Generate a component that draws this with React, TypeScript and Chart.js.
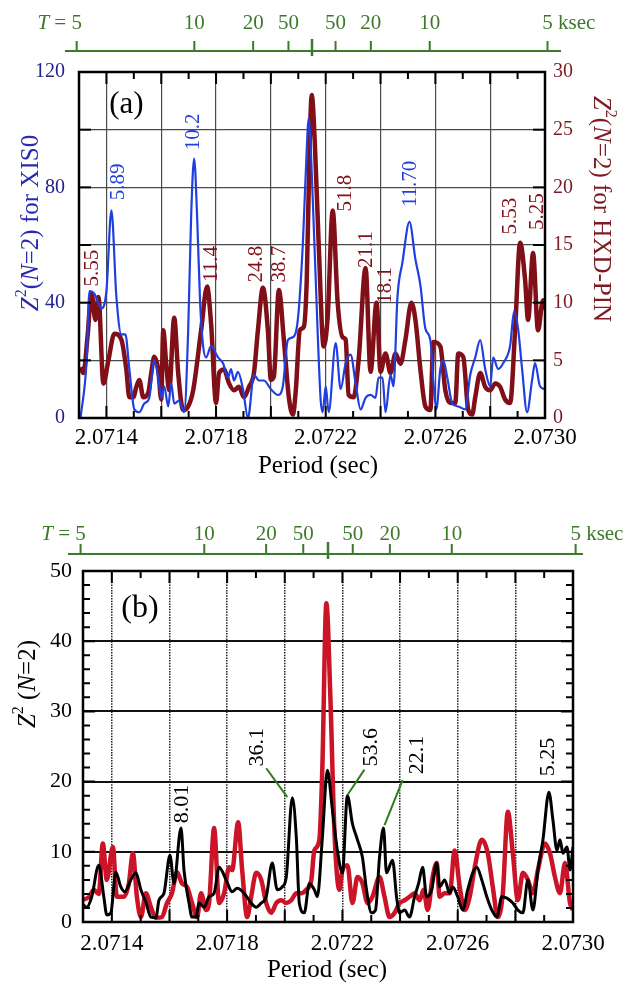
import { useEffect, useRef } from "react";
import { Chart, registerables } from "chart.js";

Chart.register(...registerables);

const SERIF = '"Liberation Serif", "DejaVu Serif", "Times New Roman", serif';

// ---------------- axes ----------------
const PERIOD_MIN = 2.0713;
const PERIOD_MAX = 2.073;
const PERIOD_LABELS = [2.0714, 2.0718, 2.0722, 2.0726, 2.073];
const XIS_TICKS = [0, 20, 40, 60, 80, 100, 120];
const XIS_LABELS = [0, 40, 80, 120];
const PIN_TICKS = [0, 5, 10, 15, 20, 25, 30];
const B_TICKS_MAJOR = [0, 10, 20, 30, 40, 50];

// top axis: beat period T (ksec) about the central period P0
const P0 = 2.07215;
const BEAT_T_KSEC = [5, 10, 20, 50];

// ---------------- panel (a): XIS0 (left axis) ----------------
const xisPeriod = [
  2.0713055, 2.0713273, 2.0713382, 2.0713564, 2.0713818, 2.0714, 2.0714182, 2.0714364, 2.0714545, 2.0714691,
  2.0714836, 2.0715018, 2.07152, 2.0715382, 2.0715564, 2.0715745, 2.0715891, 2.0716, 2.0716109, 2.0716255,
  2.0716364, 2.0716473, 2.0716655, 2.0716836, 2.0716982, 2.0717091, 2.07172, 2.0717309, 2.0717418, 2.0717527,
  2.0717636, 2.0717818, 2.0718073, 2.0718255, 2.0718436, 2.0718545, 2.0718655, 2.07188, 2.0718982, 2.0719164,
  2.0719382, 2.0719564, 2.0719745, 2.072, 2.0720255, 2.0720436, 2.0720618, 2.07208, 2.0720982, 2.0721164,
  2.0721273, 2.0721382, 2.0721527, 2.0721709, 2.0721818, 2.0721891, 2.0722, 2.0722109, 2.0722364, 2.0722545,
  2.0722727, 2.0722909, 2.0723091, 2.0723273, 2.0723455, 2.0723636, 2.0723818, 2.0723927, 2.0724073, 2.0724182,
  2.0724364, 2.0724473, 2.0724618, 2.07248, 2.0725055, 2.0725273, 2.0725455, 2.0725636, 2.0725818, 2.0725927,
  2.0726036, 2.0726182, 2.0726291, 2.0726436, 2.0726618, 2.0726836, 2.0727091, 2.0727273, 2.0727455, 2.0727636,
  2.0727818, 2.0728, 2.0728109, 2.0728291, 2.0728473, 2.0728727, 2.0728873, 2.0729018, 2.0729164, 2.0729345,
  2.0729527, 2.0729636, 2.0729818, 2.073,
];
const xisZ2 = [
  0, 19, 44, 43, 38, 44, 72, 42, 29, 29,
  17, 3, 2, 5, 7, 20, 14, 7, 11, 4,
  12, 5, 6, 2, 30, 70, 90, 70, 40, 25,
  21, 25, 21, 19, 14, 17, 13, 16, 10, 0,
  15, 13, 13, 10, 8, 11, 27, 28, 34, 60,
  85, 104, 76, 29, 6, 2, 11, 2, 26, 10,
  19, 22, 12, 3, 7, 8, 7, 14, 14, 2,
  15, 11, 42, 54, 68, 55, 46, 31, 27, 13,
  3, 17, 20, 14, 5, 4, 3, 15, 21, 27,
  17, 11, 21, 17, 19, 25, 37, 31, 17, 2,
  13, 19, 11, 10,
];

// ---------------- panel (a): HXD-PIN (right axis) ----------------
const pinPeriod = [
  2.0713055, 2.0713164, 2.0713309, 2.0713455, 2.07136, 2.0713709, 2.0713891, 2.0714073, 2.0714291, 2.0714545,
  2.0714727, 2.0714836, 2.0714982, 2.0715091, 2.07152, 2.0715345, 2.0715527, 2.0715636, 2.0715745, 2.0715891,
  2.0716, 2.0716073, 2.0716182, 2.0716291, 2.0716473, 2.0716618, 2.07168, 2.0716982, 2.0717164, 2.0717455,
  2.0717673, 2.0717818, 2.0718, 2.0718109, 2.0718291, 2.0718473, 2.0718655, 2.0718836, 2.0719018, 2.07192,
  2.0719382, 2.0719527, 2.0719709, 2.0719891, 2.072, 2.0720109, 2.0720291, 2.0720473, 2.0720655, 2.07208,
  2.0720909, 2.0721055, 2.07212, 2.0721309, 2.0721418, 2.0721491, 2.07216, 2.0721745, 2.0721927, 2.0722073,
  2.0722255, 2.0722436, 2.0722618, 2.0722727, 2.0722836, 2.0723018, 2.07232, 2.0723455, 2.0723636, 2.0723855,
  2.0724, 2.0724182, 2.0724364, 2.0724545, 2.0724727, 2.0724909, 2.0725127, 2.0725273, 2.0725455, 2.0725636,
  2.0725818, 2.0725927, 2.0726182, 2.0726364, 2.0726545, 2.0726727, 2.0726836, 2.0727018, 2.07272, 2.0727345,
  2.0727455, 2.0727636, 2.0727818, 2.0728, 2.0728182, 2.0728364, 2.0728545, 2.0728727, 2.0728909, 2.0729091,
  2.0729273, 2.0729382, 2.0729564, 2.0729745, 2.0729927, 2.073,
];
const pinZ2 = [
  4.4, 3.9, 7, 10.8, 8.5, 10.5, 3, 5, 7.3, 6.8,
  4.2, 1.8, 1.8, 2.7, 3.3, 1.8, 2.2, 3.9, 5.3, 4.2,
  1.6, 7.6, 4.7, 2.4, 8.7, 3.9, 0.7, 1, 2.4, 7.6,
  11.4, 8.2, 1.3, 3.9, 4.2, 3, 2.4, 2.7, 1.8, 2.7,
  3.9, 7.6, 11.3, 7.6, 3.3, 3.6, 11.1, 6.8, 1.8, 0.3,
  2.4, 7.6, 7.9, 12, 24, 28, 24, 15, 6.2, 8.8,
  18, 10, 7, 6.8, 2, 1.8, 5, 13, 4, 10,
  4, 5.6, 3.9, 5.6, 4.7, 6.8, 10, 8.5, 4.2, 1,
  0.7, 6.6, 6.2, 2.4, 1.3, 1.3, 5.6, 5.3, 0.7, 0.3,
  1.8, 3.9, 2.7, 2.4, 3, 2.7, 1.6, 1.3, 7.6, 15.2,
  12, 8.5, 14.3, 7.6, 10.2, 9.4,
];

// peak labels, panel (a)
const xisLabelText = ["5.89", "10.2", "11.70"];
const xisLabelPeriod = [2.0714455, 2.0717164, 2.0725091];
const xisLabelZ2 = [81.9, 99.2, 81.2];
const pinLabelText = ["5.55", "11.4", "24.8", "38.7", "51.8", "21.1", "18.1", "5.53", "5.25"];
const pinLabelPeriod = [2.0713509, 2.0717818, 2.0719491, 2.0720327, 2.0722727, 2.0723491, 2.0724182, 2.0728727, 2.0729709];
const pinLabelZ2 = [13.0, 13.35, 13.35, 13.35, 19.5, 14.6, 11.5, 17.5, 17.9];

// ---------------- panel (b) ----------------
const bBlackPeriod = [
  2.0712957, 2.071313, 2.0713304, 2.0713548, 2.0713722, 2.0713826, 2.0713965, 2.0714139, 2.0714313, 2.0714452,
  2.0714661, 2.0714835, 2.0715009, 2.0715183, 2.0715357, 2.071553, 2.0715635, 2.0715809, 2.0716017, 2.0716157,
  2.07164, 2.0716504, 2.0716678, 2.0716783, 2.0716922, 2.0717026, 2.07172, 2.0717374, 2.0717548, 2.0717722,
  2.0717965, 2.0718174, 2.0718348, 2.0718591, 2.0718835, 2.0719009, 2.0719183, 2.0719357, 2.0719565, 2.0719739,
  2.0719913, 2.0720052, 2.0720261, 2.07204, 2.0720504, 2.0720678, 2.0720852, 2.0721026, 2.072113, 2.0721304,
  2.0721478, 2.0721652, 2.0721826, 2.0722, 2.0722174, 2.0722348, 2.0722522, 2.0722696, 2.0722835, 2.0723009,
  2.0723148, 2.0723287, 2.0723426, 2.072353, 2.0723739, 2.0723878, 2.0723983, 2.0724157, 2.072433, 2.0724504,
  2.0724643, 2.0724783, 2.0724922, 2.0725096, 2.072527, 2.0725374, 2.0725548, 2.0725722, 2.0725826, 2.0726,
  2.0726174, 2.0726348, 2.0726522, 2.0726661, 2.0726835, 2.0727009, 2.0727183, 2.0727357, 2.072753, 2.0727704,
  2.0727913, 2.0728087, 2.0728261, 2.0728435, 2.0728609, 2.0728783, 2.0728957, 2.0729165, 2.0729304, 2.0729443,
  2.0729548, 2.0729652, 2.0729791, 2.0729896, 2.073,
];
const bBlackZ2 = [
  2.7, 2.1, 3.6, 8.1, 3.6, 1, 1.3, 7.1, 5, 4.3,
  6, 7, 4.6, 2.8, 0.7, 0.6, 3.1, 4.1, 9.5, 5.5,
  13.4, 7.4, 2.7, 0.7, 0.7, 2.7, 2.1, 3.6, 4.1, 7.8,
  6, 4.3, 4.8, 4.1, 2.7, 2.1, 2.7, 3.6, 8.4, 4.6,
  5, 6.4, 17.7, 12.1, 2.7, 1.3, 5.5, 4.6, 3.6, 12,
  21.6, 16, 10.2, 7, 18, 14, 11.7, 9.2, 4.6, 1.3,
  1.7, 9.2, 13.4, 7, 8.8, 3.6, 1.3, 1.7, 0.7, 3.6,
  5.5, 7.8, 3.6, 4.6, 8.4, 5, 6, 4.1, 5, 3.6,
  1.7, 4.6, 7, 7.8, 6, 3.6, 1.7, 0.7, 3.6, 3.4,
  2.7, 1.7, 1.3, 6, 1.7, 7.4, 11.7, 18.5, 14.5, 10.2,
  11.7, 9.8, 10.7, 7.4, 10.7,
];
const bRedPeriod = [
  2.0712957, 2.0713217, 2.0713374, 2.0713548, 2.0713687, 2.0713826, 2.0714035, 2.0714174, 2.0714417, 2.0714591,
  2.071473, 2.071487, 2.0715009, 2.0715183, 2.0715357, 2.071553, 2.0715739, 2.0715913, 2.0716087, 2.0716261,
  2.0716435, 2.0716609, 2.0716783, 2.0716957, 2.0717096, 2.071727, 2.0717374, 2.0717548, 2.0717722, 2.0717896,
  2.071807, 2.0718174, 2.0718383, 2.0718522, 2.0718696, 2.0718835, 2.0719009, 2.0719183, 2.0719357, 2.071953,
  2.0719704, 2.0719878, 2.0720052, 2.0720226, 2.07204, 2.0720574, 2.0720748, 2.0720922, 2.0721026, 2.07212,
  2.0721304, 2.0721443, 2.0721583, 2.0721722, 2.0721896, 2.0722, 2.0722174, 2.0722348, 2.0722522, 2.0722696,
  2.072287, 2.0723043, 2.0723287, 2.0723461, 2.0723635, 2.0723809, 2.0723983, 2.0724157, 2.072433, 2.0724504,
  2.0724678, 2.0724817, 2.0724957, 2.072513, 2.072527, 2.0725374, 2.0725548, 2.0725722, 2.0725896, 2.072607,
  2.0726243, 2.0726417, 2.0726591, 2.0726835, 2.0727043, 2.0727217, 2.0727391, 2.0727565, 2.0727739, 2.0727913,
  2.0728087, 2.0728261, 2.0728435, 2.0728609, 2.0728783, 2.0729026, 2.07292, 2.0729374, 2.0729548, 2.0729722,
  2.0729896, 2.073,
];
const bRedZ2 = [
  3.1, 3.6, 4.6, 4, 11.2, 6, 10.7, 3.6, 3.6, 5.5,
  9.8, 3.6, 0.7, 4.1, 2.1, 0.6, 0.7, 2.7, 4.1, 7.1,
  5.5, 5, 2.7, 0.7, 4.1, 1.7, 2.7, 13.4, 2.7, 4.1,
  7.8, 7.4, 14.2, 7.4, 0.7, 3.6, 7, 6, 2.7, 1.3,
  2.7, 3.1, 2.7, 3.1, 4.1, 4.1, 4.6, 6, 10.2, 11.7,
  22, 45.4, 32, 13, 4.6, 7.4, 8.1, 2.7, 6.4, 5.5,
  2.7, 3.6, 6.4, 3.6, 0.7, 1.3, 2.7, 3.1, 3.6, 4.1,
  3.1, 4.6, 1.7, 6.4, 8.4, 3.6, 4.1, 4.1, 10.2, 5,
  1.7, 3.6, 7.8, 11.7, 9.8, 5, 0.7, 4.1, 15.7, 9.8,
  3.1, 7, 6, 4.1, 7.4, 11.2, 9.8, 6.4, 4.1, 8.4,
  2.7, 1.7,
];

const bLabelText = ["8.01", "36.1", "53.6", "22.1", "5.25"];
const bLabelPeriod = [2.0716452, 2.0719043, 2.0723009, 2.0724609, 2.072913];
const bLabelZ2 = [16.8, 24.9, 24.9, 23.8, 23.5];
// leader lines: from label end to peak
const bLeaderFromPeriod = [2.0719357, 2.0722765, 2.0724087];
const bLeaderFromZ2 = [21.9, 21.7, 20.2];
const bLeaderToPeriod = [2.0720087, 2.0722174, 2.0723461];
const bLeaderToZ2 = [17.8, 18.1, 13.8];

// ---------------- styles ----------------
const BLUE = "#1f3fe0";
const MAROON = "#800f18";
const RED = "#cc1428";
const NAVY = "#22228c";
const DARKRED = "#7d1b22";
const GREEN = "#3c7a2a";
const GRID = "#4a4a4a";

const periodMinorTicks = Array.from({ length: 18 }, (_, i) => +(PERIOD_MIN + i * 0.0001).toFixed(4));
const isGridPeriod = (v: number) => {
  const k = (v - 2.0714) / 0.0002;
  return Math.abs(k - Math.round(k)) < 1e-3;
};
const isLabelPeriod = (v: number) => PERIOD_LABELS.some((l) => Math.abs(l - v) < 1e-7);
const pts = (xs: number[], ys: number[]) => xs.map((x, i) => ({ x, y: ys[i] }));

type Part = { t: string; i?: boolean; sup?: boolean };
function drawRich(ctx: CanvasRenderingContext2D, parts: Part[], cx: number, cy: number, size: number, color: string, angle: number) {
  ctx.save();
  ctx.translate(cx, cy);
  ctx.rotate(angle);
  const fontOf = (p: Part) => `${p.i ? "italic " : ""}${p.sup ? Math.round(size * 0.62) : size}px ${SERIF}`;
  let total = 0;
  const widths = parts.map((p) => {
    ctx.font = fontOf(p);
    const w = ctx.measureText(p.t).width;
    total += w;
    return w;
  });
  let x = -total / 2;
  ctx.fillStyle = color;
  ctx.textAlign = "left";
  ctx.textBaseline = "middle";
  parts.forEach((p, k) => {
    ctx.font = fontOf(p);
    ctx.fillText(p.t, x, p.sup ? -size * 0.36 : 0);
    x += widths[k];
  });
  ctx.restore();
}

function drawRotLabel(ctx: CanvasRenderingContext2D, text: string, x: number, y: number, size: number, color: string) {
  ctx.save();
  ctx.translate(x, y);
  ctx.rotate(-Math.PI / 2);
  ctx.font = `${size}px ${SERIF}`;
  ctx.fillStyle = color;
  ctx.textAlign = "center";
  ctx.textBaseline = "middle";
  ctx.fillText(text, 0, 0);
  ctx.restore();
}

function drawFrameAndXTicks(chart: any) {
  const { ctx, chartArea } = chart;
  const { left, right, top, bottom } = chartArea;
  const xs = chart.scales.x;
  ctx.save();
  ctx.strokeStyle = "#000";
  ctx.lineWidth = 2;
  periodMinorTicks.forEach((v) => {
    const px = xs.getPixelForValue(v);
    if (px <= left + 1 || px >= right - 1) return;
    const len = isGridPeriod(v) ? 12 : 7;
    ctx.beginPath();
    ctx.moveTo(px, bottom);
    ctx.lineTo(px, bottom - len);
    ctx.moveTo(px, top);
    ctx.lineTo(px, top + len);
    ctx.stroke();
  });
  ctx.lineWidth = 2.5;
  ctx.strokeRect(left, top, right - left, bottom - top);
  ctx.restore();
}

function drawTopAxis(chart: any, lineY: number, lineLeft: number, lineRight: number, labelY: number) {
  const { ctx } = chart;
  const xs = chart.scales.x;
  ctx.save();
  ctx.strokeStyle = GREEN;
  ctx.fillStyle = GREEN;
  ctx.lineWidth = 2;
  ctx.beginPath();
  ctx.moveTo(lineLeft, lineY);
  ctx.lineTo(lineRight, lineY);
  ctx.stroke();
  const size = 21;
  ctx.textBaseline = "middle";
  BEAT_T_KSEC.forEach((T) => {
    [1, -1].forEach((s) => {
      const P = 1 / (1 / P0 + s / (T * 1000));
      const px = xs.getPixelForValue(P);
      ctx.beginPath();
      ctx.moveTo(px, lineY);
      ctx.lineTo(px, lineY - 10);
      ctx.stroke();
      ctx.font = `${size}px ${SERIF}`;
      ctx.textAlign = "center";
      const txt = String(T);
      ctx.fillText(txt, px, labelY);
      const half = ctx.measureText(txt).width / 2;
      if (T === BEAT_T_KSEC[0] && s === 1) {
        ctx.textAlign = "right";
        ctx.fillText(" = ", px - half, labelY);
        const eqW = ctx.measureText(" = ").width;
        ctx.font = `italic ${size}px ${SERIF}`;
        ctx.fillText("T", px - half - eqW, labelY);
      }
      if (T === BEAT_T_KSEC[0] && s === -1) {
        ctx.textAlign = "left";
        ctx.fillText(" ksec", px + half, labelY);
      }
    });
  });
  const pc = xs.getPixelForValue(P0);
  ctx.lineWidth = 2.5;
  ctx.beginPath();
  ctx.moveTo(pc, lineY - 12);
  ctx.lineTo(pc, lineY + 5);
  ctx.stroke();
  ctx.restore();
}

const commonX = (height: number, pad: number, dashed: boolean) => ({
  type: "linear" as const,
  position: "bottom" as const,
  min: PERIOD_MIN,
  max: PERIOD_MAX,
  afterBuildTicks: (ax: any) => {
    ax.ticks = periodMinorTicks.map((v) => ({ value: v }));
  },
  afterFit: (ax: any) => {
    ax.height = height;
  },
  grid: {
    color: (c: any) => (c.tick && isGridPeriod(c.tick.value) ? (dashed ? "#222" : GRID) : "rgba(0,0,0,0)"),
    lineWidth: dashed ? 1.5 : 1.2,
    drawTicks: false,
  },
  border: { display: false, dash: dashed ? [1.5, 1.2] : [] },
  ticks: {
    autoSkip: false,
    maxRotation: 0,
    padding: pad,
    color: "#000",
    font: { family: SERIF, size: 23 },
    callback: (v: any) => (isLabelPeriod(Number(v)) ? Number(v).toFixed(4) : ""),
  },
});

function configA(): any {
  const plugin = {
    id: "panelA",
    afterDatasetsDraw(chart: any) {
      const { ctx, chartArea } = chart;
      const { left, right } = chartArea;
      const xs = chart.scales.x;
      const y = chart.scales.y;
      const y1 = chart.scales.y1;
      drawFrameAndXTicks(chart);
      ctx.save();
      ctx.strokeStyle = "#000";
      ctx.lineWidth = 2;
      XIS_TICKS.forEach((v) => {
        if (v === 0 || v === 120) return;
        const py = y.getPixelForValue(v);
        ctx.beginPath();
        ctx.moveTo(left, py);
        ctx.lineTo(left + 12, py);
        ctx.stroke();
      });
      PIN_TICKS.forEach((v) => {
        if (v === 0 || v === 30) return;
        const py = y1.getPixelForValue(v);
        ctx.beginPath();
        ctx.moveTo(right, py);
        ctx.lineTo(right - 12, py);
        ctx.stroke();
      });
      ctx.restore();
      // peak labels
      xisLabelText.forEach((t, k) =>
        drawRotLabel(ctx, t, xs.getPixelForValue(xisLabelPeriod[k]), y.getPixelForValue(xisLabelZ2[k]), 21, BLUE)
      );
      pinLabelText.forEach((t, k) =>
        drawRotLabel(ctx, t, xs.getPixelForValue(pinLabelPeriod[k]), y1.getPixelForValue(pinLabelZ2[k]), 21, MAROON)
      );
      // panel tag
      ctx.save();
      ctx.font = `31px ${SERIF}`;
      ctx.fillStyle = "#000";
      ctx.textAlign = "center";
      ctx.textBaseline = "middle";
      ctx.fillText("(a)", xs.getPixelForValue(2.0714727), y.getPixelForValue(108.6));
      ctx.restore();
      drawTopAxis(chart, 51, left - 14, right + 16, 23);
      drawRich(ctx, [{ t: "Z", i: true }, { t: "2", sup: true }, { t: "(" }, { t: "N", i: true }, { t: "=2) for XIS0" }], 31, 223, 25, "#2a2ab0", -Math.PI / 2);
      drawRich(ctx, [{ t: "Z", i: true }, { t: "2", sup: true }, { t: "(" }, { t: "N", i: true }, { t: "=2) for HXD-PIN" }], 601, 209, 25, DARKRED, Math.PI / 2);
      drawRich(ctx, [{ t: "Period (sec)" }], 318, 466, 25, "#000", 0);
    },
  };
  return {
    type: "line",
    data: {
      datasets: [
        {
          data: pts(xisPeriod, xisZ2),
          yAxisID: "y",
          borderColor: BLUE,
          borderWidth: 2.2,
          pointRadius: 0,
          cubicInterpolationMode: "monotone",
          clip: 0,
        },
        {
          data: pts(pinPeriod, pinZ2),
          yAxisID: "y1",
          borderColor: MAROON,
          borderWidth: 4.5,
          pointRadius: 0,
          cubicInterpolationMode: "monotone",
          clip: 0,
        },
      ],
    },
    options: {
      responsive: false,
      maintainAspectRatio: false,
      animation: false,
      events: [],
      layout: { padding: { top: 72, left: 0, right: 0, bottom: 0 } },
      plugins: { legend: { display: false }, tooltip: { enabled: false }, title: { display: false } },
      scales: {
        x: commonX(72, 6, false),
        y: {
          type: "linear",
          position: "left",
          min: 0,
          max: 120,
          afterBuildTicks: (ax: any) => {
            ax.ticks = XIS_TICKS.map((v) => ({ value: v }));
          },
          afterFit: (ax: any) => {
            ax.width = 79;
          },
          grid: { color: GRID, lineWidth: 1.2, drawTicks: false },
          border: { display: false },
          ticks: {
            padding: 14,
            color: NAVY,
            font: { family: SERIF, size: 20 },
            callback: (v: any) => (XIS_LABELS.includes(Number(v)) ? String(v) : ""),
          },
        },
        y1: {
          type: "linear",
          position: "right",
          min: 0,
          max: 30,
          afterBuildTicks: (ax: any) => {
            ax.ticks = PIN_TICKS.map((v) => ({ value: v }));
          },
          afterFit: (ax: any) => {
            ax.width = 86;
          },
          grid: { display: false, drawTicks: false },
          border: { display: false },
          ticks: { padding: 8, color: DARKRED, font: { family: SERIF, size: 20 } },
        },
      },
    },
    plugins: [plugin],
  };
}

function configB(): any {
  const plugin = {
    id: "panelB",
    afterDatasetsDraw(chart: any) {
      const { ctx, chartArea } = chart;
      const { left, right } = chartArea;
      const xs = chart.scales.x;
      const y = chart.scales.y;
      drawFrameAndXTicks(chart);
      ctx.save();
      ctx.strokeStyle = "#000";
      ctx.lineWidth = 2;
      for (let v = 2; v < 50; v += 2) {
        const py = y.getPixelForValue(v);
        const len = v % 10 === 0 ? 12 : 7;
        ctx.beginPath();
        ctx.moveTo(left, py);
        ctx.lineTo(left + len, py);
        ctx.moveTo(right, py);
        ctx.lineTo(right - len, py);
        ctx.stroke();
      }
      // leader lines
      ctx.strokeStyle = "#2e7d1e";
      ctx.lineWidth = 2;
      bLeaderFromPeriod.forEach((p, k) => {
        ctx.beginPath();
        ctx.moveTo(xs.getPixelForValue(p), y.getPixelForValue(bLeaderFromZ2[k]));
        ctx.lineTo(xs.getPixelForValue(bLeaderToPeriod[k]), y.getPixelForValue(bLeaderToZ2[k]));
        ctx.stroke();
      });
      ctx.restore();
      bLabelText.forEach((t, k) =>
        drawRotLabel(ctx, t, xs.getPixelForValue(bLabelPeriod[k]), y.getPixelForValue(bLabelZ2[k]), 22, "#000")
      );
      ctx.save();
      ctx.font = `32px ${SERIF}`;
      ctx.fillStyle = "#000";
      ctx.textAlign = "center";
      ctx.textBaseline = "middle";
      ctx.fillText("(b)", xs.getPixelForValue(2.0714974), y.getPixelForValue(44.6));
      ctx.restore();
      drawTopAxis(chart, 64, left - 15, right + 10, 44);
      drawRich(ctx, [{ t: "Z", i: true }, { t: "2", sup: true }, { t: " (" }, { t: "N", i: true }, { t: "=2)" }], 28, 194, 25, "#000", -Math.PI / 2);
      drawRich(ctx, [{ t: "Period (sec)" }], 327, 480, 25, "#000", 0);
    },
  };
  return {
    type: "line",
    data: {
      datasets: [
        {
          data: pts(bBlackPeriod, bBlackZ2),
          borderColor: "#000",
          borderWidth: 3,
          pointRadius: 0,
          cubicInterpolationMode: "monotone",
          clip: 0,
        },
        {
          data: pts(bRedPeriod, bRedZ2),
          borderColor: RED,
          borderWidth: 4.5,
          pointRadius: 0,
          cubicInterpolationMode: "monotone",
          clip: 0,
        },
      ],
    },
    options: {
      responsive: false,
      maintainAspectRatio: false,
      animation: false,
      events: [],
      layout: { padding: { top: 81, left: 0, right: 58, bottom: 0 } },
      plugins: { legend: { display: false }, tooltip: { enabled: false }, title: { display: false } },
      scales: {
        x: commonX(64, 8, true),
        y: {
          type: "linear",
          position: "left",
          min: 0,
          max: 50,
          afterBuildTicks: (ax: any) => {
            ax.ticks = B_TICKS_MAJOR.map((v) => ({ value: v }));
          },
          afterFit: (ax: any) => {
            ax.width = 83;
          },
          grid: { color: "#111", lineWidth: 2, drawTicks: false },
          border: { display: false },
          ticks: { padding: 11, color: "#000", font: { family: SERIF, size: 22 } },
        },
      },
    },
    plugins: [plugin],
  };
}

export default function App() {
  const refA = useRef<HTMLCanvasElement>(null);
  const refB = useRef<HTMLCanvasElement>(null);
  useEffect(() => {
    const a = new Chart(refA.current as HTMLCanvasElement, configA());
    const b = new Chart(refB.current as HTMLCanvasElement, configB());
    return () => {
      a.destroy();
      b.destroy();
    };
  }, []);
  return (
    <div style={{ position: "absolute", left: 0, top: 0, width: 631, height: 986, background: "#fff" }}>
      <canvas ref={refA} width={631} height={490} style={{ display: "block", width: 631, height: 490 }} />
      <canvas ref={refB} width={631} height={496} style={{ display: "block", width: 631, height: 496 }} />
    </div>
  );
}
